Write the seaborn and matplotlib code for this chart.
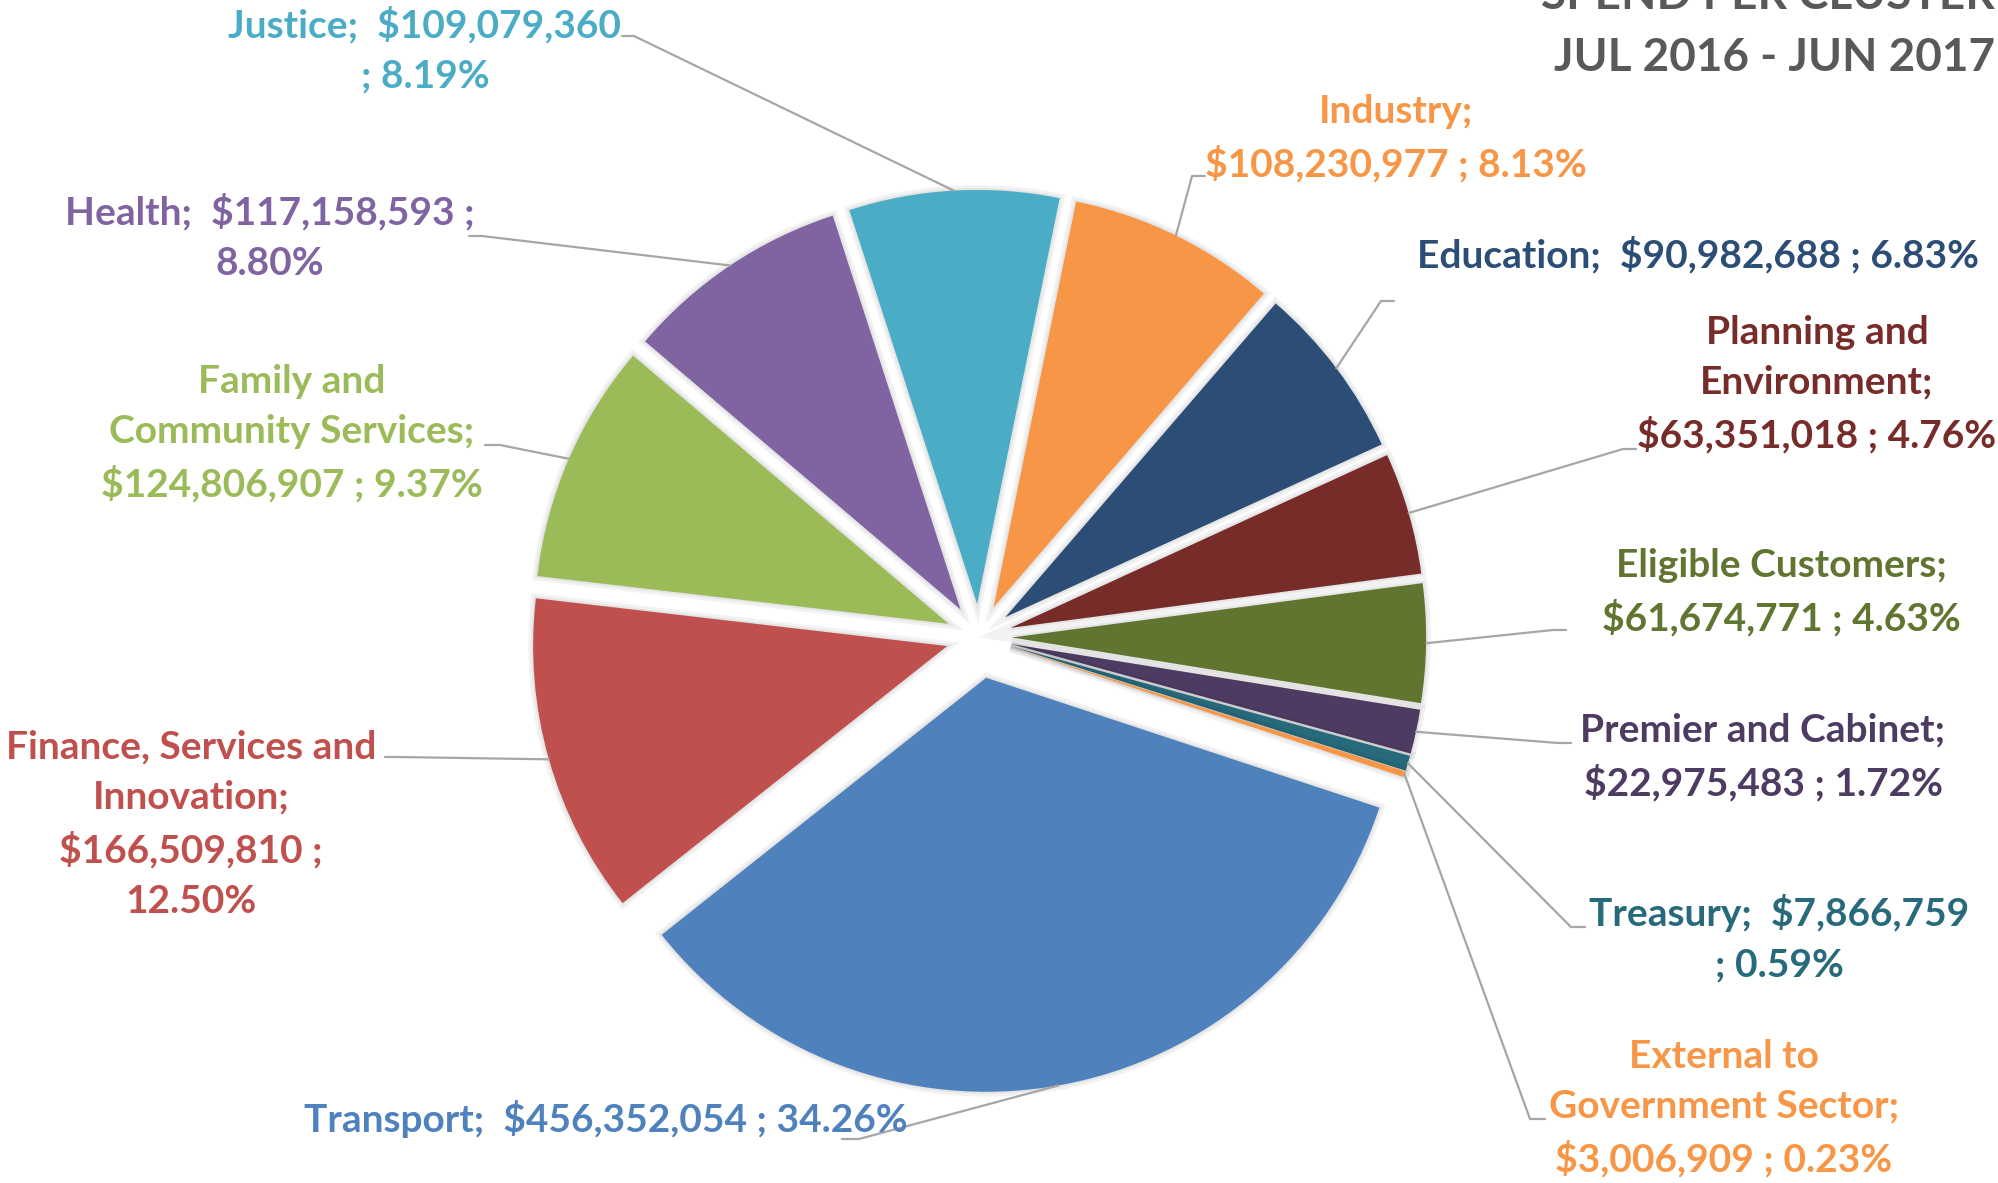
import numpy as np
import seaborn as sns
import matplotlib.pyplot as plt
import matplotlib.patheffects as pe

# data, clockwise from the top
clusters = ['Industry', 'Education', 'Planning and Environment', 'Eligible Customers',
            'Premier and Cabinet', 'Treasury', 'External to Government Sector', 'Transport',
            'Finance, Services and Innovation', 'Family and Community Services', 'Health', 'Justice']
spend = [108230977, 90982688, 63351018, 61674771, 22975483, 7866759, 3006909,
         456352054, 166509810, 124806907, 117158593, 109079360]
shares = ['8.13%', '6.83%', '4.76%', '4.63%', '1.72%', '0.59%', '0.23%',
          '34.26%', '12.50%', '9.37%', '8.80%', '8.19%']
label_text = [
    'Industry;\n$108,230,977 ; 8.13%',
    'Education;  $90,982,688 ; 6.83%',
    'Planning and\nEnvironment;\n$63,351,018 ; 4.76%',
    'Eligible Customers;\n$61,674,771 ; 4.63%',
    'Premier and Cabinet;\n$22,975,483 ; 1.72%',
    'Treasury;  $7,866,759\n; 0.59%',
    'External to\nGovernment Sector;\n$3,006,909 ; 0.23%',
    'Transport;  $456,352,054 ; 34.26%',
    'Finance, Services and\nInnovation;\n$166,509,810 ;\n12.50%',
    'Family and\nCommunity Services;\n$124,806,907 ; 9.37%',
    'Health;  $117,158,593 ;\n8.80%',
    'Justice;  $109,079,360\n; 8.19%',
]
hex_colors = ['#F79646', '#2C4D75', '#772C2A', '#5F7530', '#4D3B62', '#276A7C', '#F79646',
              '#4F81BD', '#C0504D', '#9BBB59', '#8064A2', '#4BACC6']

# layout (pixels of the 1999x1183 picture)
W, H = 1999, 1183
CX, CY, RPX = 979, 637, 414
label_pos = [(1396, 138), (1698, 255), (1817, 384), (1781, 592), (1763, 757), (1779, 938),
             (1724, 1108), (606, 1119), (191, 824), (292, 433), (270, 237), (425, 50)]
leader_end = [(1205, 176), (1394, 301), (1636, 449), (1566, 630), (1571, 743), (1585, 927),
              (1545, 1119), (842, 1139), (385, 757), (485, 445), (469, 236), (622, 36)]
elbow_dx = [-13, -13, -13, -13, -13, -14, -15, 17, 13, 15, 13, 12]


def to_data(x, y):
    return (x - CX) / RPX, (CY - y) / RPX


sns.set_style("white")
plt.rcParams['font.family'] = ['Lato', 'DejaVu Sans']

colors = sns.color_palette(hex_colors)
explode = [0.10 if c == 'Transport' else 0.08 for c in clusters]

fig = plt.figure(figsize=(W / 100, H / 100), dpi=100)
ax = fig.add_axes([0, 0, 1, 1])
wedges, _ = ax.pie(spend, colors=colors, explode=explode, startangle=78.5,
                   counterclock=False, radius=1,
                   wedgeprops=dict(linewidth=0))
for w in wedges:
    w.set_path_effects([pe.Stroke(linewidth=7, foreground='#000000', alpha=0.05),
                        pe.Stroke(linewidth=3, foreground='#000000', alpha=0.05),
                        pe.Normal()])

x0, y0 = to_data(0, H)
x1, y1 = to_data(W, 0)
ax.set_xlim(x0, x1)
ax.set_ylim(y0, y1)
ax.set_aspect('equal')
ax.axis('off')

for i, w in enumerate(wedges):
    mid = np.deg2rad((w.theta1 + w.theta2) / 2)
    ax_, ay_ = w.center[0] + w.r * np.cos(mid), w.center[1] + w.r * np.sin(mid)
    ex, ey = leader_end[i]
    p_end = to_data(ex, ey)
    p_elb = to_data(ex + elbow_dx[i], ey)
    ax.plot([ax_, p_elb[0], p_end[0]], [ay_, p_elb[1], p_end[1]],
            color='#A6A6A6', lw=1.6, zorder=1)
    tx, ty = to_data(*label_pos[i])
    ax.text(tx, ty, label_text[i], color=hex_colors[i], fontsize=28, fontweight='bold',
            ha='center', va='center', multialignment='center', linespacing=1.52)

# title, cut off at the top edge as in the source
tx, ty = to_data(1995, -4)
ax.text(tx, ty, 'SPEND PER CLUSTER', color='#595959', fontsize=33, fontweight='bold',
        ha='right', va='center')
tx, ty = to_data(1995, 58)
ax.text(tx, ty, 'JUL 2016 - JUN 2017', color='#595959', fontsize=33, fontweight='bold',
        ha='right', va='center')

fig.savefig('out.png', dpi=100, facecolor='white')
